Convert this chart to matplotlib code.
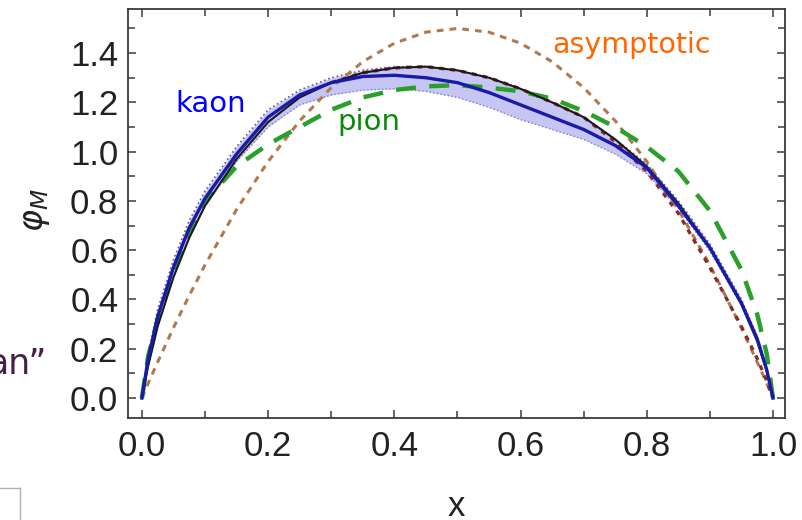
import matplotlib.pyplot as plt
from matplotlib.lines import Line2D
from matplotlib.ticker import MultipleLocator

# Values
x = [0, 0.01, 0.025, 0.05, 0.075, 0.1, 0.15, 0.2, 0.25, 0.3, 0.35, 0.4, 0.45,
     0.5, 0.55, 0.6, 0.65, 0.7, 0.75, 0.8, 0.85, 0.9, 0.95, 0.975, 0.99, 1.0]

kaon = [0, 0.16, 0.33, 0.53, 0.69, 0.81, 0.99, 1.14, 1.23, 1.28, 1.305, 1.31, 1.30,
        1.28, 1.24, 1.19, 1.14, 1.09, 1.025, 0.935, 0.78, 0.61, 0.385, 0.24, 0.115, 0]
kaon_lo = [0, 0.13, 0.29, 0.49, 0.65, 0.78, 0.96, 1.10, 1.19, 1.23, 1.25, 1.255, 1.245,
           1.22, 1.18, 1.13, 1.09, 1.05, 0.99, 0.91, 0.77, 0.595, 0.375, 0.23, 0.105, 0]
kaon_hi = [0, 0.18, 0.36, 0.56, 0.72, 0.84, 1.02, 1.17, 1.25, 1.30, 1.33, 1.345, 1.345,
           1.33, 1.30, 1.255, 1.20, 1.14, 1.05, 0.95, 0.80, 0.625, 0.40, 0.25, 0.125, 0]
model = [0, 0.13, 0.29, 0.49, 0.65, 0.78, 0.97, 1.12, 1.22, 1.28, 1.32, 1.34, 1.345,
         1.33, 1.30, 1.255, 1.20, 1.14, 1.05, 0.94, 0.79, 0.61, 0.38, 0.23, 0.11, 0]
pion = [0, 0.17, 0.32, 0.51, 0.67, 0.80, 0.94, 1.03, 1.10, 1.17, 1.22, 1.25, 1.265,
        1.27, 1.26, 1.245, 1.215, 1.165, 1.10, 1.02, 0.92, 0.76, 0.52, 0.34, 0.18, 0]
asym = [0, 0.06, 0.146, 0.285, 0.416, 0.54, 0.765, 0.96, 1.125, 1.26, 1.365, 1.44, 1.485,
        1.5, 1.485, 1.44, 1.365, 1.26, 1.125, 0.96, 0.765, 0.54, 0.285, 0.146, 0.06, 0]

x_red = [0.3, 0.35, 0.4, 0.45, 0.5, 0.55, 0.6, 0.65, 0.7, 0.75, 0.8, 0.85, 0.9, 0.95, 0.975, 0.99, 1.0]
red = [1.28, 1.32, 1.34, 1.345, 1.33, 1.30, 1.255, 1.20, 1.14, 1.04, 0.92, 0.75, 0.53, 0.29, 0.16, 0.07, 0]

W, H = 803, 520
fig = plt.figure(figsize=(W / 100, H / 100), dpi=100)
ax = fig.add_axes([128 / W, 1 - 418 / H, 657 / W, 409 / H])

ax.fill_between(x, kaon_lo, kaon_hi, color="#b8b8f2", alpha=0.8, lw=0)
ax.plot(x, kaon_lo, ":", color="#8080b8", lw=1)
ax.plot(x, kaon_hi, ":", color="#6a5a9a", lw=1.2)
ax.plot(x, asym, color="#b07a50", lw=2.2, linestyle=(0, (2.2, 2.0)))
ax.plot(x_red, red, color="#8a2a2a", lw=2.4, linestyle=(0, (1.5, 1.8)))
ax.plot(x, pion, color="#2aa02a", lw=3.2, linestyle=(0, (4.5, 3.0)))
ax.plot(x, model, color="#1a1a1a", lw=1.5)
ax.plot(x, kaon, color="#1a1aa8", lw=2.4)

ax.set_xlim(-0.022, 1.019)
ax.set_ylim(-0.081, 1.579)
ax.xaxis.set_minor_locator(MultipleLocator(0.1))
ax.yaxis.set_minor_locator(MultipleLocator(0.1))
ax.set_xticks([0, 0.2, 0.4, 0.6, 0.8, 1.0])
ax.set_xticklabels(["0.0", "0.2", "0.4", "0.6", "0.8", "1.0"])
ax.set_yticks([0, 0.2, 0.4, 0.6, 0.8, 1.0, 1.2, 1.4])
ax.set_yticklabels(["0.0", "0.2", "0.4", "0.6", "0.8", "1.0", "1.2", "1.4"])

for s in ax.spines.values():
    s.set_color("#3a3a3a")
    s.set_linewidth(1.3)
ax.tick_params(which="both", direction="in", top=True, right=True, color="#3a3a3a", width=1.1)
ax.tick_params(which="major", length=6)
ax.tick_params(which="minor", length=5)
ax.tick_params(axis="x", pad=9, labelsize=25, labelcolor="#222222")
ax.tick_params(axis="y", pad=7, labelsize=25, labelcolor="#222222")
for lab in ax.get_xticklabels() + ax.get_yticklabels():
    lab.set_family("Liberation Sans")

fig.text(175 / W, 1 - 112 / H, "kaon", color="#0000ff", fontsize=21, family="DejaVu Sans", va="baseline")
fig.text(337 / W, 1 - 130 / H, "pion", color="#0a8a0a", fontsize=21, family="DejaVu Sans", va="baseline")
fig.text(552 / W, 1 - 53 / H, "asymptotic", color="#ff6600", fontsize=20.5, family="DejaVu Sans", va="baseline")
fig.text(47 / W, 1 - 374 / H, "an\u201d", color="#4a1e4a", fontsize=25, family="DejaVu Sans",
         ha="right", va="baseline")

fig.text(36 / W, 1 - 210 / H, r"$\varphi_M$", fontsize=24, rotation=90, ha="center", va="center",
         color="#222222")
fig.text(456 / W, 1 - 507 / H, "x", fontsize=25, family="Liberation Sans", ha="center", va="center",
         color="#222222")

# little frame corner in the bottom-left
fig.add_artist(Line2D([0, 20 / W], [1 - 488 / H, 1 - 488 / H], color="#b0b0b0", lw=1))
fig.add_artist(Line2D([20 / W, 20 / W], [1 - 488 / H, 0], color="#b0b0b0", lw=1))

plt.savefig("out.png", dpi=100)
plt.close()
